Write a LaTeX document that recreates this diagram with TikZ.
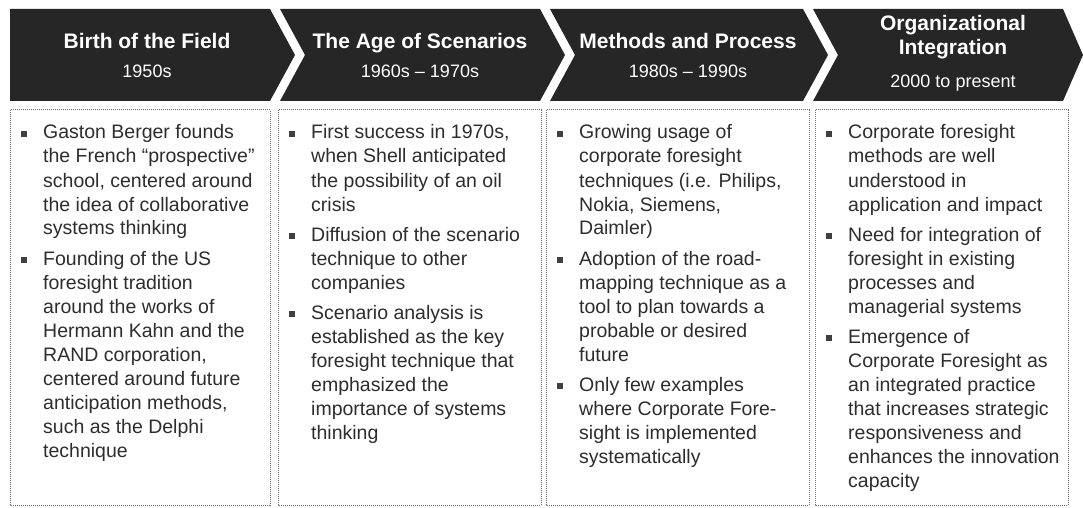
\documentclass[tikz,border=0pt]{standalone}
\usepackage{fontspec}
\setmainfont{Liberation Sans}
\usetikzlibrary{calc}

\definecolor{bannerfill}{RGB}{38,38,38}
\definecolor{bodytext}{RGB}{45,45,45}
\definecolor{bulletgray}{RGB}{64,64,64}
\definecolor{framegray}{RGB}{110,110,110}

\newcommand\bodypar[1]{\parbox[t]{230pt}{\raggedright #1}}

\tikzset{
  banner/.style={fill=bannerfill, draw=none},
  frame/.style={draw=framegray, line width=1pt, dash pattern=on 1pt off 1pt},
  phasetitle/.style={text=white, inner sep=0pt, anchor=base,
    font=\fontsize{21}{24}\selectfont\bfseries},
  period/.style={text=white, inner sep=0pt, anchor=base,
    font=\fontsize{18}{21}\selectfont},
  itemtext/.style={text=bodytext, inner sep=0pt, anchor=base west,
    font=\fontsize{19.5}{24}\selectfont},
  bulletmark/.style={fill=bulletgray, draw=none, minimum size=6pt, inner sep=0pt},
}

\begin{document}
\begin{tikzpicture}[x=1pt, y=-1pt]
  \useasboundingbox (0,0) rectangle (1083,508);

  % chevron banners
  \fill[banner] (10,9) -- (270,9) -- (295,55) -- (270,101) -- (10,101) -- cycle;
  \fill[banner] (280,9) -- (540,9) -- (565,55) -- (540,101) -- (280,101) -- (305,55) -- cycle;
  \fill[banner] (550,9) -- (803,9) -- (828,55) -- (803,101) -- (550,101) -- (575,55) -- cycle;
  \fill[banner] (813,9) -- (1063,9) -- (1083,55) -- (1063,101) -- (813,101) -- (838,55) -- cycle;

  % banner texts
  \node[phasetitle] (t1) at (147,49) {Birth of the Field};
  \node[period]     (d1) at (147,78) {1950s};
  \node[phasetitle] (t2) at (420,49) {The Age of Scenarios};
  \node[period]     (d2) at (420,78) {1960s – 1970s};
  \node[phasetitle] (t3) at (688,49) {Methods and Process};
  \node[period]     (d3) at (688,78) {1980s – 1990s};
  \node[phasetitle] (t4a) at (953,31) {Organizational};
  \node[phasetitle] (t4b) at (953,55) {Integration};
  \node[period]     (d4) at (953,88) {2000 to present};

  % dotted content frames
  \draw[frame] (10,110) rectangle (270,505);
  \draw[frame] (278,110) rectangle (541,505);
  \draw[frame] (546,110) rectangle (809,505);
  \draw[frame] (815,110) rectangle (1068,505);

  % column 1
  \node[itemtext] (p11) at (43,139) {\bodypar{Gaston Berger founds\\the French “prospective”\\school, centered around\\the idea of collaborative\\systems thinking}};
  \node[itemtext] (p12) at (43,265) {\bodypar{Founding of the US\\foresight tradition\\around the works of\\Hermann Kahn and the\\RAND corporation,\\centered around future\\anticipation methods,\\such as the Delphi\\technique}};

  % column 2
  \node[itemtext] (p21) at (311,139) {\bodypar{First success in 1970s,\\when Shell anticipated\\the possibility of an oil\\crisis}};
  \node[itemtext] (p22) at (311,241) {\bodypar{Diffusion of the scenario\\technique to other\\companies}};
  \node[itemtext] (p23) at (311,319) {\bodypar{Scenario analysis is\\established as the key\\foresight technique that\\emphasized the\\importance of systems\\thinking}};

  % column 3
  \node[itemtext] (p31) at (579,139) {\bodypar{Growing usage of\\corporate foresight\\techniques (i.e. Philips,\\Nokia, Siemens,\\Daimler)}};
  \node[itemtext] (p32) at (579,265) {\bodypar{Adoption of the road-\\mapping technique as a\\tool to plan towards a\\probable or desired\\future}};
  \node[itemtext] (p33) at (579,391) {\bodypar{Only few examples\\where Corporate Fore-\\sight is implemented\\systematically}};

  % column 4
  \node[itemtext] (p41) at (848,139) {\bodypar{Corporate foresight\\methods are well\\understood in\\application and impact}};
  \node[itemtext] (p42) at (848,241) {\bodypar{Need for integration of\\foresight in existing\\processes and\\managerial systems}};
  \node[itemtext] (p43) at (848,343) {\bodypar{Emergence of\\Corporate Foresight as\\an integrated practice\\that increases strategic\\responsiveness and\\enhances the innovation\\capacity}};

  % square bullets beside each item
  \foreach \p in {p11,p12,p21,p22,p23,p31,p32,p33,p41,p42,p43}
    \node[bulletmark] (b-\p) at ($(\p.base west)+(-19,-5)$) {};
\end{tikzpicture}
\end{document}
